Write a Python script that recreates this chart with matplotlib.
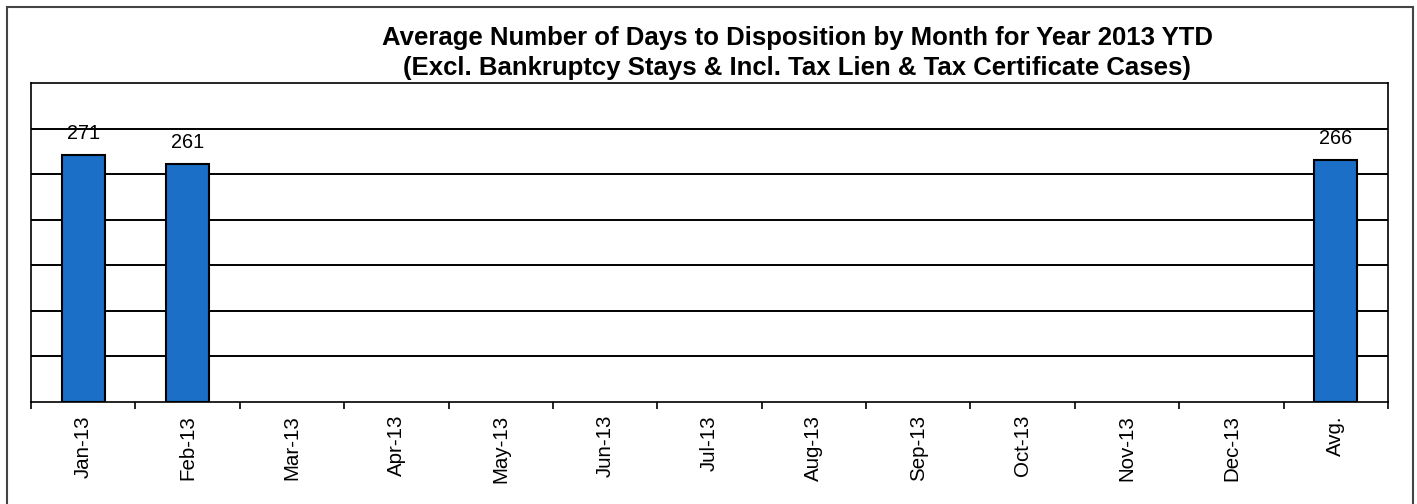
import matplotlib.pyplot as plt
import matplotlib.patches as mpatches
import numpy as np

plt.rcParams['font.family'] = ['Liberation Sans', 'DejaVu Sans']

# monthly averages, None where the month has no data yet
months = ['Jan-13', 'Feb-13', 'Mar-13', 'Apr-13', 'May-13', 'Jun-13',
          'Jul-13', 'Aug-13', 'Sep-13', 'Oct-13', 'Nov-13', 'Dec-13', 'Avg.']
days = [271, 261, None, None, None, None, None, None, None, None, None, None, 266]

title_lines = ['Average Number of Days to Disposition by Month for Year 2013 YTD',
               '(Excl. Bankruptcy Stays & Incl. Tax Lien & Tax Certificate Cases)']


def main():
    fig = plt.figure(figsize=(14.17, 5.04), dpi=100)
    ax = fig.add_axes([0.0219, 0.2024, 0.9576, 0.6329])

    x = np.arange(len(months))
    has_val = [v is not None for v in days]
    xs = x[has_val]
    vals = [v for v in days if v is not None]

    bars = ax.bar(xs, vals, width=0.41, color='#1B6FC6', edgecolor='black',
                  linewidth=1.5, zorder=3)
    for b, v in zip(bars, vals):
        ax.annotate(f'{v}', (b.get_x() + b.get_width() / 2, v),
                    xytext=(0, 11.5), textcoords='offset points',
                    ha='center', va='baseline', fontsize=14.3)

    ax.set_xlim(-0.5, len(months) - 0.5)
    ax.set_ylim(0, 350)
    ax.set_yticks(np.arange(50, 350, 50))
    ax.yaxis.grid(True, color='black', linewidth=1.4, zorder=0)
    ax.tick_params(axis='y', left=False, labelleft=False)

    # labels at category centres, tick marks on category boundaries
    ax.set_xticks(x)
    ax.set_xticklabels(months, rotation=90, fontsize=14.8)
    ax.set_xticks(np.arange(-0.5, len(months), 1.0), minor=True)
    ax.tick_params(axis='x', which='major', length=0, pad=9.4)
    ax.tick_params(axis='x', which='minor', length=5, width=1.2,
                   direction='out', color='black')

    for sp in ax.spines.values():
        sp.set_color('black')
        sp.set_linewidth(1.2)

    # two-line title, each line placed on its own baseline
    for line, yb in zip(title_lines, [0.9107, 0.8512]):
        fig.text(0.5625, yb, line, ha='center', va='baseline', fontsize=18.5,
                 fontweight='bold')

    # outer chart border
    border = mpatches.Rectangle((7 / 1417, -0.05), 1406 / 1417, 1.05 - 7 / 504,
                                transform=fig.transFigure, fill=False,
                                edgecolor='#444444', linewidth=1.5,
                                clip_on=False)
    fig.patches.append(border)

    fig.savefig('out.png', dpi=100)


if __name__ == '__main__':
    main()
